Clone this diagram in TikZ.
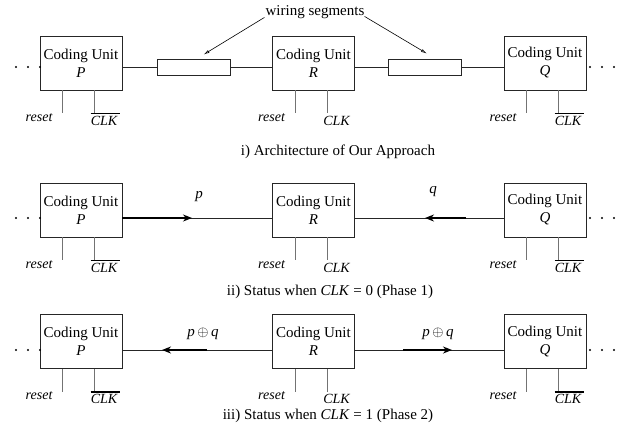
\documentclass[tikz,border=0pt]{standalone}
\usepackage{fontspec}
\setmainfont{Liberation Serif}
\usetikzlibrary{arrows.meta,calc}
\begin{document}
\begin{tikzpicture}[x=1pt,y=-1pt,
  unit/.style={draw=black!85, line width=0.8pt, minimum width=82pt, minimum height=54pt, inner sep=0pt, align=center, font=\fontsize{15}{18}\selectfont},
  wire/.style={line width=0.8pt, draw=black!85},
  stub/.style={line width=1.2pt, draw=black!55},
  lbl/.style={font=\fontsize{14}{16}\selectfont\itshape, inner sep=0pt},
  captxt/.style={font=\fontsize{15}{18}\selectfont, inner sep=0pt},
  seg/.style={draw=black!85, line width=0.8pt, minimum width=73pt, minimum height=16pt, inner sep=0pt},
  flow/.style={line width=1.5pt, -{Stealth[length=9pt,width=7pt]}},
  bar/.style={line width=1.6pt},
  pointer/.style={line width=0.6pt, -{Latex[open,length=6pt,width=3pt]}}
]
\useasboundingbox (0,0) rectangle (621,439);

% ---------- units ----------
\node[unit] (P1) at (81,63) {Coding Unit\\\textit{P}};
\node[unit] (R1) at (313.5,63) {Coding Unit\\\textit{R}};
\node[unit] (Q1) at (545,63) {Coding Unit\\\textit{Q}};
\node[unit] (P2) at (81,210) {Coding Unit\\\textit{P}};
\node[unit] (R2) at (313.5,210) {Coding Unit\\\textit{R}};
\node[unit] (Q2) at (545,210) {Coding Unit\\\textit{Q}};
\node[unit] (P3) at (81,341.5) {Coding Unit\\\textit{P}};
\node[unit] (R3) at (313.5,341.5) {Coding Unit\\\textit{R}};
\node[unit] (Q3) at (545,341.5) {Coding Unit\\\textit{Q}};

% ---------- reset / CLK inputs ----------
\foreach \u/\b in {P1/1,R1/0,Q1/1,P2/1,R2/0,Q2/1,P3/1,R3/0,Q3/1}{
  \draw[stub] ($(\u.south west)+(23,0)$) -- ++(0,23) coordinate (\u-re);
  \node[lbl, anchor=base east] (\u-rl) at ($(\u-re)+(-10,8)$) {reset};
  \draw[stub] ($(\u.south west)+(55,0)$) -- ++(0,23) coordinate (\u-ce);
  \node[lbl, anchor=base west] (\u-cl) at ($(\u-ce)+(-4,12)$) {CLK};
  \ifnum\b=1
    \draw[bar] ($(\u-ce)+(-4,0)$) -- ++(29,0);
  \fi
}

% ---------- continuation dots ----------
\foreach \yy in {67,218,350}{
  \foreach \xx in {16,28,40,590,602,614}{
    \fill (\xx,\yy) circle (1.2pt);
  }
}

% ---------- row 1: wiring ----------
\node[seg] (S1) at (193.5,67) {};
\node[seg] (S2) at (425,67) {};
\draw[wire] (P1.east |- S1.west) -- (S1.west);
\draw[wire] (S1.east) -- (R1.west |- S1.east);
\draw[wire] (R1.east |- S2.west) -- (S2.west);
\draw[wire] (S2.east) -- (Q1.west |- S2.east);

\node[captxt, anchor=base] (ws) at (315,15) {wiring segments};
\coordinate (t1) at ($(S1.north)+(10,-4)$);
\coordinate (t2) at ($(S2.north)+(2,-5)$);
\draw[pointer] ($(ws.south west)+(-1,-1)$) -- (t1);
\draw[pointer] ($(ws.south east)+(0,-2)$) -- (t2);

\node[captxt] (c1) at (338,152) {i) Architecture of Our Approach};

% ---------- row 2 ----------
\coordinate (L2) at (0,218);
\draw[wire] (P2.east |- L2) -- (R2.west |- L2);
\draw[wire] (R2.east |- L2) -- (Q2.west |- L2);
\coordinate (a2) at (192,218);
\coordinate (b2s) at (466,218);
\coordinate (b2) at (425,218);
\draw[flow] (P2.east |- L2) -- (a2);
\draw[flow] (b2s) -- (b2);
\node[captxt] (lp) at (199,197) {\textit{p}};
\node[captxt] (lq) at (433,192) {\textit{q}};

\node[captxt] (c2) at (330,292) {ii) Status when \textit{CLK} = 0 (Phase 1)};

% ---------- row 3 ----------
\coordinate (L3) at (0,350);
\draw[wire] (P3.east |- L3) -- (R3.west |- L3);
\draw[wire] (R3.east |- L3) -- (Q3.west |- L3);
\coordinate (a3s) at (207,350);
\coordinate (a3) at (162,350);
\coordinate (b3s) at (403,350);
\coordinate (b3) at (452,350);
\draw[flow] (a3s) -- (a3);
\draw[flow] (b3s) -- (b3);
\node[captxt] (lpq1) at (203,334) {\textit{p}\,$\oplus$\,\textit{q}};
\node[captxt] (lpq2) at (438,334) {\textit{p}\,$\oplus$\,\textit{q}};

\node[captxt] (c3) at (328,416) {iii) Status when \textit{CLK} = 1 (Phase 2)};
\end{tikzpicture}
\end{document}
